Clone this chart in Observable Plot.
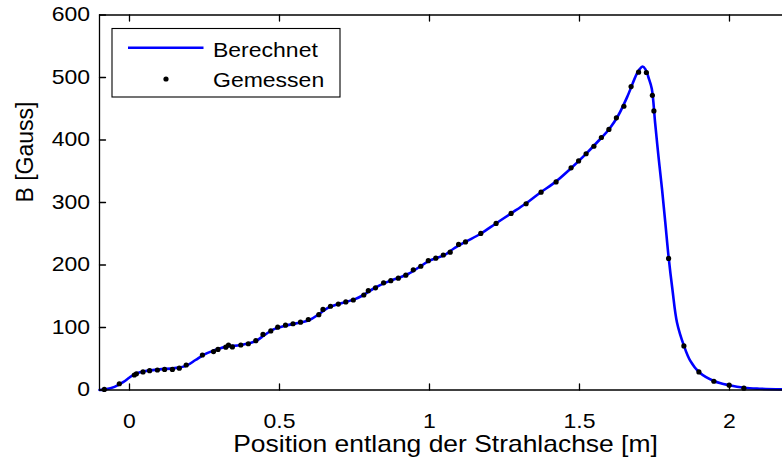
<!DOCTYPE html>
<html>
<head>
<meta charset="utf-8">
<script src="https://cdn.jsdelivr.net/npm/d3@7"></script>
<script src="https://cdn.jsdelivr.net/npm/@observablehq/plot@0.6"></script>
<style>
  html, body { margin: 0; padding: 0; background: #fff; overflow: hidden; }
  #chart svg { display: block; font-family: "Liberation Sans", Arial, Helvetica, sans-serif; }
</style>
</head>
<body>
<div id="chart"></div>
<script>
// ---- data ----
const measuredX = [-0.084, -0.034, 0.016, 0.023, 0.045, 0.067, 0.093, 0.117, 0.143, 0.166, 0.189,
  0.243, 0.280, 0.295, 0.321, 0.330, 0.343, 0.371, 0.396, 0.421, 0.445, 0.471,
  0.494, 0.520, 0.545, 0.570, 0.596, 0.631, 0.645, 0.670, 0.696, 0.721, 0.746,
  0.781, 0.796, 0.820, 0.847, 0.871, 0.896, 0.921, 0.946, 0.971, 0.996, 1.021, 1.046, 1.069,
  1.097, 1.120, 1.171, 1.222, 1.272, 1.322, 1.372, 1.422, 1.472, 1.497, 1.522, 1.548,
  1.573, 1.598, 1.623, 1.648, 1.672, 1.697, 1.723, 1.743, 1.748, 1.797, 1.848, 1.898,
  1.948, 1.999, 2.048];
const measuredB = [1, 10, 24, 26, 29, 31, 32, 33, 33, 35, 40,
  56, 61.5, 65, 68.5, 72, 69, 72, 74, 79, 89, 94.5,
  100.5, 103.7, 106, 108.5, 112.8, 120.5, 129, 134, 137.5, 141, 144,
  152, 159, 163.5, 171.5, 175, 179, 183.7, 192.3, 198, 207, 211, 216, 220.5,
  233, 237, 250.5, 266.5, 282.5, 298, 316.5, 333, 355.5, 366.5, 378, 390,
  404, 417, 435.5, 454, 485.5, 508.5, 508, 471.5, 446.5, 210.5, 70.5, 29,
  14, 7.7, 3];

const calcX = [-0.1, -0.08, -0.05, -0.02, 0.0, 0.02, 0.05, 0.1, 0.15, 0.19, 0.22, 0.25, 0.28,
  0.32, 0.37, 0.42, 0.45, 0.48, 0.52, 0.57, 0.6, 0.63, 0.66, 0.7, 0.75, 0.78, 0.82, 0.86,
  0.9, 0.93, 0.97, 1.0, 1.05, 1.08, 1.12, 1.17, 1.22, 1.27, 1.32, 1.37, 1.42, 1.47, 1.52,
  1.57, 1.6, 1.63, 1.66, 1.69, 1.70, 1.71, 1.72, 1.73, 1.741, 1.752, 1.763, 1.775, 1.786,
  1.797, 1.81, 1.825, 1.848, 1.869, 1.9, 1.95, 2.0, 2.05, 2.1, 2.18];
const calcB = [0, 1, 5, 13, 20, 26, 30, 33, 35, 39, 48, 57, 63,
  69, 72, 78, 88, 97, 103, 108, 112, 121, 131, 138, 145, 152, 164, 173,
  180, 186, 198, 207, 216, 226, 237, 250, 266, 282, 298, 316, 333, 354, 377,
  402, 418, 440, 470, 505, 513, 517.5, 513, 500, 482, 428, 375, 322, 268,
  213, 160, 108, 71, 47, 28, 14, 7.5, 3.5, 2, 1];

const xTicks = [0, 0.5, 1, 1.5, 2];
const yTicks = [0, 100, 200, 300, 400, 500, 600];
const xDomain = [-0.1, 2.1767];
const yDomain = [0, 600];
const xLabel = "Position entlang der Strahlachse [m]";
const yLabel = "B [Gauss]";
const legendLabels = ["Berechnet", "Gemessen"];

const measured = measuredX.map((x, i) => ({x, B: measuredB[i]}));
const calc = calcX.map((x, i) => ({x, B: calcB[i]}));
const fmt = d => String(d);

// straight tick shape for inward ticks
const tickShape = {draw(context, l) { context.moveTo(0, 0); context.lineTo(0, -l); }};
const tickStyle = {length: 6, anchor: "start", shape: tickShape, stroke: "#000", strokeWidth: 1.3};

const chart = Plot.plot({
  width: 782,
  height: 459,
  marginLeft: 99,
  marginRight: 0,
  marginTop: 14.5,
  marginBottom: 69.5,
  style: {fontFamily: '"Liberation Sans", Arial, Helvetica, sans-serif', fontSize: "20px", color: "#000", background: "#fff"},
  x: {domain: xDomain},
  y: {domain: yDomain},
  marks: [
    Plot.line(calc, {x: "x", y: "B", stroke: "#0000ff", strokeWidth: 2.6, curve: "catmull-rom"}),
    Plot.dot(measured, {x: "x", y: "B", r: 2.6, fill: "#000", stroke: null}),
    Plot.ruleY([yDomain[0]], {stroke: "#000", strokeWidth: 1.3}),
    Plot.ruleY([yDomain[1]], {stroke: "#000", strokeWidth: 1.3}),
    Plot.ruleX([xDomain[0]], {stroke: "#000", strokeWidth: 1.3}),
    // inward ticks
    Plot.vector(xTicks, {x: d => d, y: () => yDomain[0], rotate: 0, ...tickStyle}),
    Plot.vector(xTicks, {x: d => d, y: () => yDomain[1], rotate: 180, ...tickStyle}),
    Plot.vector(yTicks, {x: () => xDomain[0], y: d => d, rotate: 90, ...tickStyle}),
    Plot.axisX({ticks: xTicks, anchor: "bottom", tickSize: 0, tickPadding: 23.5, tickFormat: fmt, label: null, fontSize: 20}),
    Plot.axisY({ticks: yTicks, anchor: "left", tickSize: 0, tickPadding: 9.5, tickFormat: fmt, label: null, fontSize: 20}),
    Plot.text([xLabel], {frameAnchor: "bottom", dy: 54.5, dx: 4.5, fontSize: 23, fill: "#000", lineAnchor: "middle", text: d => d}),
    Plot.text([yLabel], {frameAnchor: "left", dx: -74, rotate: -90, fontSize: 23, fill: "#000", text: d => d})
  ]
});

document.getElementById("chart").appendChild(chart);

// ---- legend (drawn inside the plot area) ----
const svg = d3.select(chart);
const lg = svg.append("g").attr("class", "legend");
lg.append("rect").attr("x", 112).attr("y", 28.5).attr("width", 228).attr("height", 68.5)
  .attr("fill", "#fff").attr("stroke", "#000").attr("stroke-width", 1.1);
lg.append("line").attr("x1", 128).attr("x2", 203.5).attr("y1", 47.7).attr("y2", 47.7)
  .attr("stroke", "#0000ff").attr("stroke-width", 2.6);
lg.append("circle").attr("cx", 166).attr("cy", 79).attr("r", 2.6).attr("fill", "#000");
lg.selectAll("text.lt").data(legendLabels).enter().append("text")
  .attr("class", "lt")
  .attr("x", 213).attr("y", (d, i) => 57.3 + i * 30)
  .attr("text-anchor", "start")
  .attr("font-size", 20).attr("fill", "#000").text(d => d);

// ---- horizontal glyph stretch, as in the reference export ----
chart.querySelectorAll("text").forEach(t => {
  const tr = t.getAttribute("transform") || "";
  if (tr.includes("rotate")) return;
  const x = +t.getAttribute("x") || 0, y = +t.getAttribute("y") || 0;
  t.setAttribute("transform", `${tr} translate(${x},${y}) scale(1.15,1) translate(${-x},${-y})`);
});
</script>
</body>
</html>
